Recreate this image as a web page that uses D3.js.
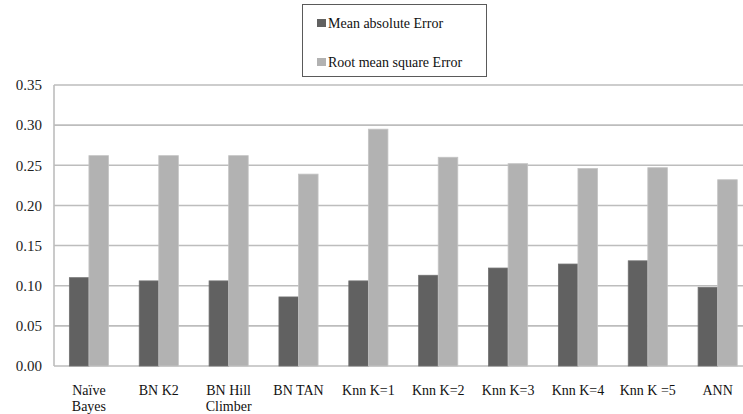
<!DOCTYPE html>
<html lang="en">
<head>
<meta charset="UTF-8">
<title>Error comparison</title>
<script src="https://cdn.jsdelivr.net/npm/d3@7"></script>
<style>
  body { margin: 0; background: #fff; overflow: hidden; }
  svg { display: block; }
</style>
</head>
<body>
<svg id="chart" width="743" height="414"></svg>
<script>
const categories = [["Naïve", "Bayes"], ["BN K2"], ["BN Hill", "Climber"], ["BN TAN"], ["Knn K=1"],
                    ["Knn K=2"], ["Knn K=3"], ["Knn K=4"], ["Knn K =5"], ["ANN"]];
const seriesNames = ["Mean absolute Error", "Root mean square Error"];
const meanAbs = [0.110, 0.106, 0.106, 0.086, 0.106, 0.113, 0.122, 0.127, 0.131, 0.098];
const rootMeanSq = [0.262, 0.262, 0.262, 0.239, 0.295, 0.260, 0.252, 0.246, 0.247, 0.232];
const yTicks = [0, 0.05, 0.10, 0.15, 0.20, 0.25, 0.30, 0.35];
const colors = ["#616161", "#b2b2b2"];

const svg = d3.select("#chart");
const plotL = 54, plotR = 752.6, plotT = 85, plotB = 366;
const serif = "'Liberation Serif', 'DejaVu Serif', serif";

const x = d3.scaleBand()
    .domain(d3.range(categories.length))
    .range([plotL, plotR])
    .paddingInner(0.44)
    .paddingOuter(0.22);
const x1 = d3.scaleBand().domain([0, 1]).range([0, x.bandwidth()]);
const y = d3.scaleLinear().domain([0, 0.35]).range([plotB, plotT]);

// gridlines
svg.append("g")
  .selectAll("line")
  .data(yTicks)
  .join("line")
    .attr("x1", plotL).attr("x2", plotR)
    .attr("y1", d => y(d)).attr("y2", d => y(d))
    .attr("stroke", "#bdbdbd")
    .attr("stroke-width", 1.6);

svg.append("line")
    .attr("x1", plotL).attr("x2", plotL)
    .attr("y1", plotT).attr("y2", plotB)
    .attr("stroke", "#bdbdbd").attr("stroke-width", 1.6);

// y labels
svg.append("g")
  .selectAll("text")
  .data(yTicks)
  .join("text")
    .attr("x", 42)
    .attr("y", d => y(d))
    .attr("dy", "0.35em")
    .attr("text-anchor", "end")
    .attr("font-family", serif)
    .attr("font-size", 15)
    .attr("fill", "#222")
    .text(d => d3.format(".2f")(d));

// bars
const data = categories.map((c, i) => [meanAbs[i], rootMeanSq[i]]);
const groups = svg.append("g")
  .selectAll("g")
  .data(data)
  .join("g")
    .attr("transform", (d, i) => `translate(${x(i)},0)`);

groups.selectAll("rect")
  .data(d => d.map((v, k) => ({ v, k })))
  .join("rect")
    .attr("x", d => x1(d.k))
    .attr("y", d => y(d.v))
    .attr("width", x1.bandwidth())
    .attr("height", d => plotB - y(d.v))
    .attr("fill", d => colors[d.k])
    .attr("stroke", d => d.k === 0 ? "#707070" : "#c4c4c4")
    .attr("stroke-width", 0.8);

// category labels
svg.append("g")
  .selectAll("text")
  .data(categories)
  .join("text")
    .attr("x", (d, i) => x(i) + x.bandwidth() / 2)
    .attr("y", 395)
    .attr("text-anchor", "middle")
    .attr("font-family", serif)
    .attr("font-size", 14)
    .attr("fill", "#111")
  .selectAll("tspan")
  .data(d => d)
  .join("tspan")
    .attr("x", function () { return this.parentNode.getAttribute("x"); })
    .attr("dy", (d, j) => j === 0 ? 0 : 16)
    .text(d => d);

// legend
const legend = svg.append("g");
legend.append("rect")
    .attr("x", 302.5).attr("y", 4.5)
    .attr("width", 184).attr("height", 72)
    .attr("fill", "#fff")
    .attr("stroke", "#5a5a5a").attr("stroke-width", 1);

const items = legend.selectAll("g.item")
  .data(seriesNames)
  .join("g")
    .attr("class", "item")
    .attr("transform", (d, i) => `translate(317,${23 + i * 39})`);
items.append("rect")
    .attr("x", 0).attr("y", -4)
    .attr("width", 9).attr("height", 8)
    .attr("fill", (d, i) => colors[i]);
items.append("text")
    .attr("x", 11)
    .attr("dy", "0.35em")
    .attr("font-family", serif)
    .attr("font-size", 14)
    .attr("fill", "#111")
    .text(d => d);
</script>
</body>
</html>
